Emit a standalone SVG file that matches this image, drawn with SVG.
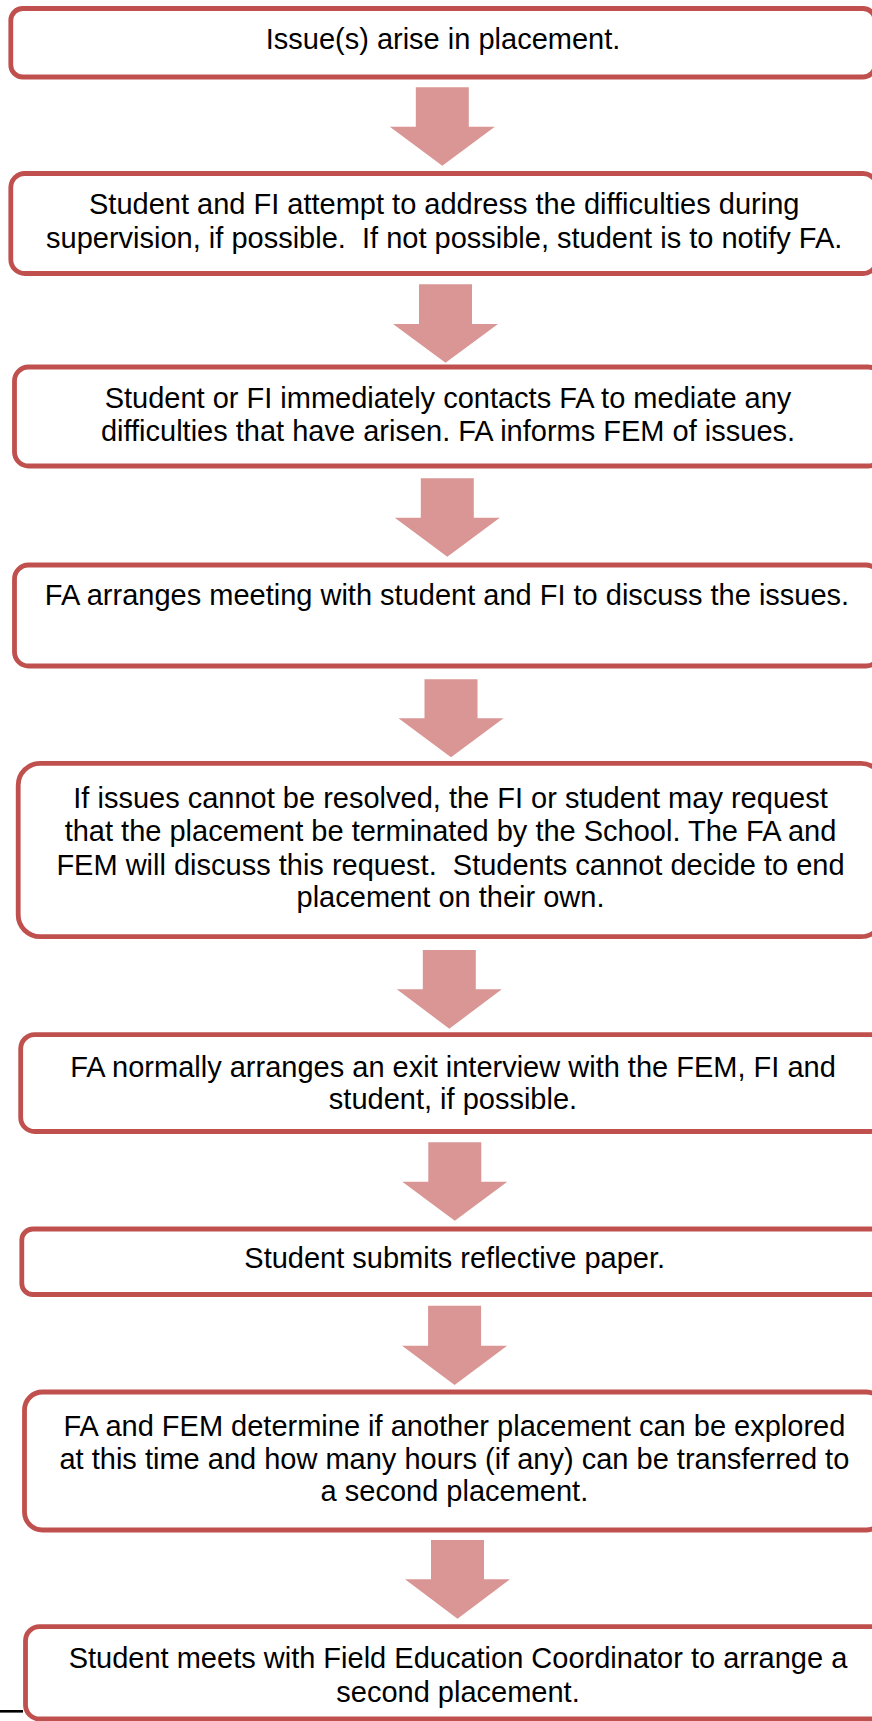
<svg xmlns="http://www.w3.org/2000/svg" width="872" height="1721" viewBox="0 0 872 1721">
<style>
.box{fill:#FFFFFF;stroke:#C0504D;stroke-width:4.8}
.arr{fill:#D99694;stroke:none}
.t{font-family:"Liberation Sans",Arial,sans-serif;font-size:29px;fill:#000000;text-anchor:middle;white-space:pre}
</style>
<rect width="872" height="1721" fill="#FFFFFF"/>
<g id="connectors">
<polygon class="arr" points="415.8,87.3 468.8,87.3 468.8,126.7 494.8,126.7 442.3,165.7 389.8,126.7 415.8,126.7"/>
<polygon class="arr" points="419,284.3 472,284.3 472,324 498,324 445.5,362.7 393,324 419,324"/>
<polygon class="arr" points="420.8,478.3 473.8,478.3 473.8,517.7 499.8,517.7 447.3,556.7 394.8,517.7 420.8,517.7"/>
<polygon class="arr" points="424.5,679.3 477.5,679.3 477.5,718.3 503.5,718.3 451,757.3 398.5,718.3 424.5,718.3"/>
<polygon class="arr" points="422.8,950 475.8,950 475.8,989.3 501.8,989.3 449.3,1028.7 396.8,989.3 422.8,989.3"/>
<polygon class="arr" points="428.3,1142.3 481.3,1142.3 481.3,1181.7 507.3,1181.7 454.8,1220.7 402.3,1181.7 428.3,1181.7"/>
<polygon class="arr" points="428.1,1305.8 481.1,1305.8 481.1,1345.8 507.1,1345.8 454.6,1385 402.1,1345.8 428.1,1345.8"/>
<polygon class="arr" points="431,1540 484,1540 484,1579.2 510,1579.2 457.5,1618.7 405,1579.2 431,1579.2"/>
</g>
<g id="node1">
<rect class="box" x="10.8" y="8.5" width="864.2" height="68.5" rx="12"/>
<text class="t" x="443" y="49">Issue(s) arise in placement.</text>
</g>
<g id="node2">
<rect class="box" x="10.8" y="173.5" width="866.2" height="100" rx="14"/>
<text class="t"><tspan x="444.2" y="214">Student and FI attempt to address the difficulties during</tspan><tspan x="444.2" y="247.5">supervision, if possible.  If not possible, student is to notify FA.</tspan></text>
</g>
<g id="node3">
<rect class="box" x="14.5" y="367" width="867.5" height="99" rx="14"/>
<text class="t"><tspan x="448" y="408.3">Student or FI immediately contacts FA to mediate any</tspan><tspan x="448" y="441">difficulties that have arisen. FA informs FEM of issues.</tspan></text>
</g>
<g id="node4">
<rect class="box" x="14.5" y="565" width="865.5" height="101" rx="14"/>
<text class="t" x="447" y="605">FA arranges meeting with student and FI to discuss the issues.</text>
</g>
<g id="node5">
<rect class="box" x="18.2" y="763.3" width="864.8" height="173.4" rx="22"/>
<text class="t"><tspan x="450.5" y="808">If issues cannot be resolved, the FI or student may request</tspan><tspan x="450.5" y="841">that the placement be terminated by the School. The FA and</tspan><tspan x="450.5" y="874.5">FEM will discuss this request.  Students cannot decide to end</tspan><tspan x="450.5" y="907">placement on their own.</tspan></text>
</g>
<g id="node6">
<rect class="box" x="20.7" y="1034.7" width="864.3" height="96.8" rx="14"/>
<text class="t"><tspan x="453" y="1076.7">FA normally arranges an exit interview with the FEM, FI and</tspan><tspan x="453" y="1109">student, if possible.</tspan></text>
</g>
<g id="node7">
<rect class="box" x="21.8" y="1229" width="866.2" height="65.5" rx="11"/>
<text class="t" x="454.7" y="1268.3">Student submits reflective paper.</text>
</g>
<g id="node8">
<rect class="box" x="24.5" y="1392" width="859.5" height="138" rx="18"/>
<text class="t"><tspan x="454.4" y="1436">FA and FEM determine if another placement can be explored</tspan><tspan x="454.4" y="1468.5">at this time and how many hours (if any) can be transferred to</tspan><tspan x="454.4" y="1501">a second placement.</tspan></text>
</g>
<g id="node9">
<rect class="box" x="25.5" y="1626.7" width="864.5" height="92.3" rx="14"/>
<text class="t"><tspan x="458" y="1668.3">Student meets with Field Education Coordinator to arrange a</tspan><tspan x="458" y="1701.5">second placement.</tspan></text>
</g>
<line x1="0" y1="1711.3" x2="23" y2="1711.3" stroke="#000000" stroke-width="2.6"/>
</svg>
